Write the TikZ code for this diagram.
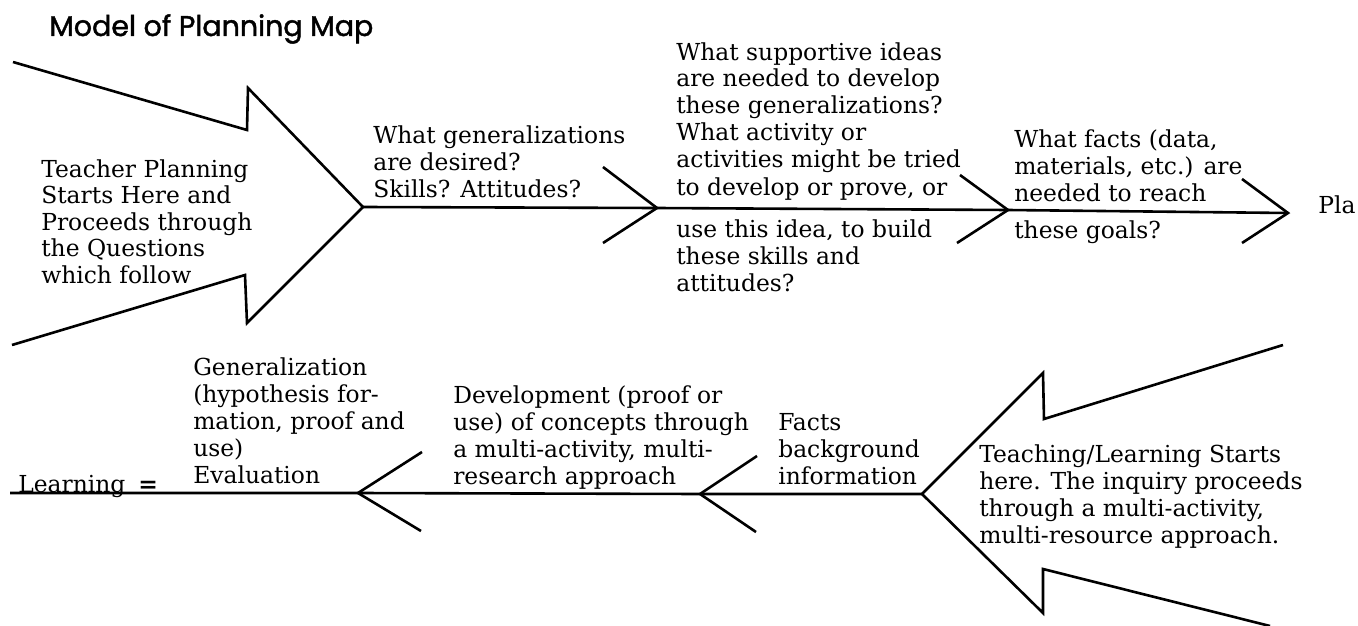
\documentclass[tikz,border=0pt]{standalone}
\usepackage{fontspec}
\setmainfont{DejaVu Serif}
\newfontfamily\titlefont[FakeBold=1.5]{Poppins}
\newcommand{\stk}[1]{\begin{tabular}[t]{@{}l@{}}#1\end{tabular}}
\begin{document}
\begin{tikzpicture}[x=1pt,y=-1pt,line width=2.6pt,line join=miter,
  txt/.style={inner sep=0pt,anchor=base west,font=\fontsize{23.4}{27}\selectfont},
  txtb/.style={inner sep=0pt,anchor=base west,font=\fontsize{23.4}{26.5}\selectfont},
  ttl/.style={inner sep=0pt,anchor=base west,font=\titlefont\fontsize{28.5}{32}\selectfont}]
\useasboundingbox (0,0) rectangle (1358,626);
% title
\node[ttl] (title) at (48,36) {Model of Planning Map};
% ---- top row coordinates
\coordinate (ta1) at (13,62);
\coordinate (ta2) at (247,130);
\coordinate (ta3) at (248,88);
\coordinate (tipA) at (363,207);
\coordinate (ta4) at (247,323);
\coordinate (ta5) at (245,275);
\coordinate (ta6) at (12,345);
\coordinate (c2) at (657,208);
\coordinate (c3) at (1008,210);
\coordinate (c4) at (1288,213);
\coordinate (c2u) at (603,167);
\coordinate (c2l) at (603,243);
\coordinate (c3u) at (960,175);
\coordinate (c3l) at (957,243);
\coordinate (c4u) at (1242,179);
\coordinate (c4l) at (1242,243);
\draw (ta1) -- (ta2) -- (ta3) -- (tipA) -- (ta4) -- (ta5) -- (ta6);
\draw (tipA) -- (c2) -- (c3) -- (c4);
\draw (c2u) -- (c2) -- (c2l);
\draw (c3u) -- (c3) -- (c3l);
\draw (c4u) -- (c4) -- (c4l);
% ---- top texts
\node[txtb] (t1) at (40,177) {\stk{Teacher Planning\\Starts Here and\\Proceeds through\\the Questions\\which follow}};
\node[txt] (t2) at (372,143) {\stk{What generalizations\\are desired?\\Skills? Attitudes?}};
\node[txt] (t3) at (675,60) {\stk{What supportive ideas\\are needed to develop\\these generalizations?\\What activity or\\activities might be tried\\to develop or prove, or}};
\node[txt] (t4) at (675,237) {\stk{use this idea, to build\\these skills and\\attitudes?}};
\node[txt] (t5) at (1013,147) {\stk{What facts (data,\\materials, etc.) are\\needed to reach}};
\node[txt] (t6) at (1013,238) {these goals?};
\node[txt] (t7) at (1317,213) {Pla};
% ---- bottom row coordinates
\coordinate (la) at (10,493);
\coordinate (d1) at (358,493);
\coordinate (d2) at (700,494);
\coordinate (tipB) at (922,494);
\coordinate (d1u) at (422,452);
\coordinate (d1l) at (421,531);
\coordinate (d2u) at (757,456);
\coordinate (d2l) at (756,532);
\coordinate (b1) at (1283,345);
\coordinate (b2) at (1044,419);
\coordinate (b3) at (1043,373);
\coordinate (b4) at (1043,613);
\coordinate (b5) at (1043,569);
\coordinate (b6) at (1270,626);
\draw (la) -- (d1) -- (d2) -- (tipB);
\draw (d1u) -- (d1) -- (d1l);
\draw (d2u) -- (d2) -- (d2l);
\draw (b1) -- (b2) -- (b3) -- (tipB) -- (b4) -- (b5) -- (b6);
% ---- bottom texts
\node[txt] (lrn) at (17,492) {Learning};
\node[txt] (eqm) at (137,492) {\bfseries =};
\node[txt] (u1) at (192,375) {\stk{Generalization\\(hypothesis for-\\mation, proof and\\use)\\Evaluation}};
\node[txt] (u2) at (452,403) {\stk{Development (proof or\\use) of concepts through\\a multi-activity, multi-\\research approach}};
\node[txt] (u3) at (777,430) {\stk{Facts\\background\\information}};
\node[txt] (u4) at (978,462) {\stk{Teaching/Learning Starts\\here. The inquiry proceeds\\through a multi-activity,\\multi-resource approach.}};
\end{tikzpicture}
\end{document}
